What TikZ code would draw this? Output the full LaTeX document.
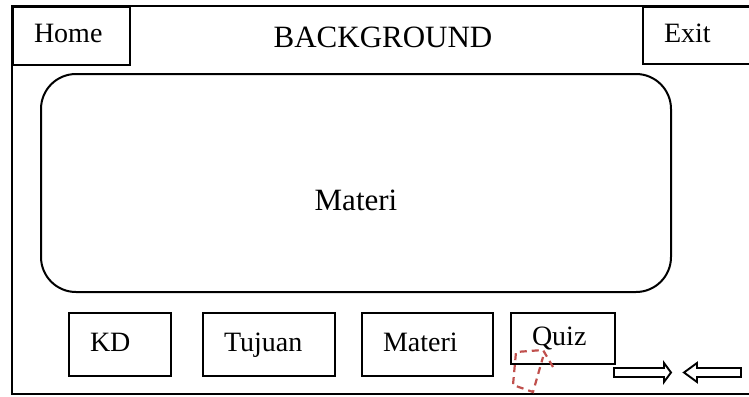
\documentclass[tikz,border=0pt]{standalone}
\usepackage{fontspec}
\setmainfont{Liberation Serif}
\usepackage{xcolor}
\usetikzlibrary{positioning}

\definecolor{pointerred}{HTML}{C0504D}

\begin{document}
\begin{tikzpicture}[
    x=1pt, y=-1pt,
    line width=2pt,
    btn/.style={rectangle, draw=black, anchor=north west, align=left, inner xsep=21pt, inner ysep=0pt, text height=19pt, text depth=6pt, font=\fontsize{28}{32}\selectfont},
    panel/.style={rectangle, rounded corners=35pt, draw=black, minimum width=630pt, minimum height=218pt},
    blockarrow/.style={draw=black, line width=1.9pt, fill=white},
    pointer/.style={draw=pointerred, line width=2.2pt, dash pattern=on 7pt off 5pt}
]
\useasboundingbox (0,0) rectangle (749,396);

% Frame
\draw (12,6) rectangle (775,394);

% Top bar
\node (home) [btn, text width=75pt, minimum height=58pt] at (12,6) {Home};
\node (exit) [btn, text width=85pt, minimum height=57pt] at (642,6) {Exit};
\node (title) [font=\fontsize{31}{34}\selectfont] at (383,37) {BACKGROUND};

% Content area
\node (content) [panel] at (356,183) {};
\node (contenttext) [font=\fontsize{31}{34}\selectfont] at (356,200) {Materi};

% Menu buttons
\node (kd) [btn, text width=60pt, minimum height=63pt] at (68,312) {KD};
\node (tujuan) [btn, text width=90pt, minimum height=63pt] at (202,312) {Tujuan};
\node (materi) [btn, text width=89pt, minimum height=63pt] at (361,312) {Materi};
\node (quiz) [btn, text width=62pt, minimum height=51pt] at (510,312) {Quiz};

% Pointer
\draw [pointer] (553,367) -- (543,350) -- (516,352) -- (513,385) -- (533,392) -- (543,357);

% Next / previous
\draw [blockarrow] (614,368) -- (664,368) -- (664,363) -- (671,372.5) -- (664,382) -- (664,377) -- (614,377) -- cycle;
\draw [blockarrow] (741,368) -- (697,368) -- (697,363) -- (684,372.5) -- (697,382) -- (697,377) -- (741,377) -- cycle;

\end{tikzpicture}
\end{document}
